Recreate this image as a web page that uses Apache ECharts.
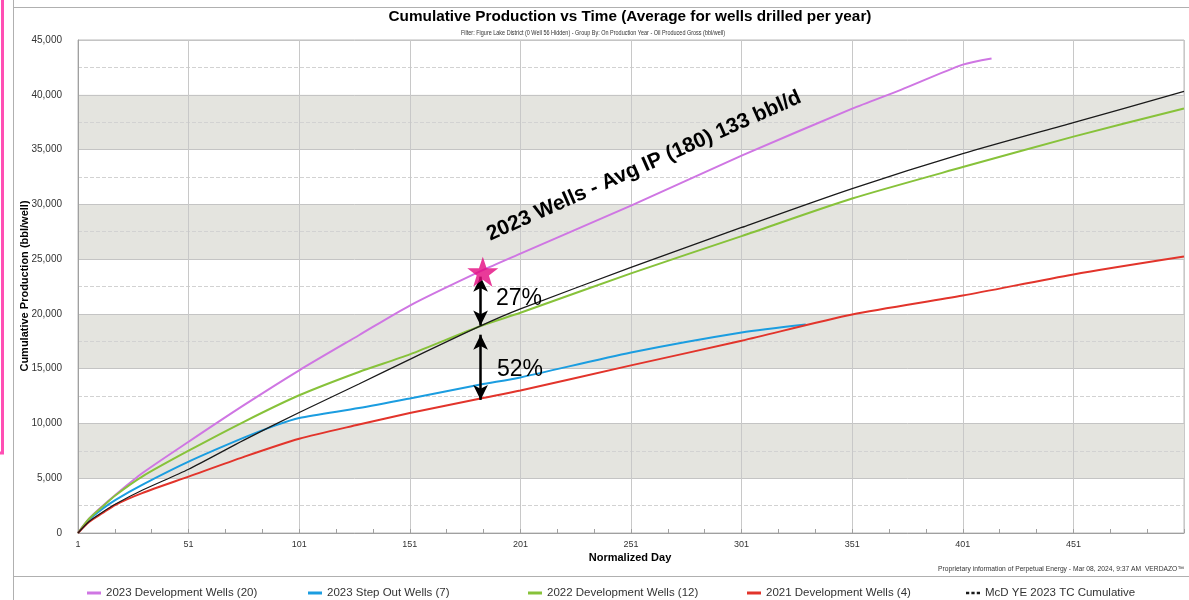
<!DOCTYPE html>
<html><head><meta charset="utf-8">
<script src="https://cdn.jsdelivr.net/npm/echarts@6/dist/echarts.min.js"></script>
<style>html,body{margin:0;padding:0;background:#fff}#c{width:1189px;height:600px}</style>
</head><body><div id="c"></div>
<script>
const TITLE = 'Cumulative Production vs Time (Average for wells drilled per year)';
const SUBTITLE = 'Filter: Figure Lake District (0 Well 56 Hidden) - Group By: On Production Year - Oil Produced Gross (bbl/well)';
const FOOTER = 'Proprietary information of Perpetual Energy - Mar 08, 2024, 9:37 AM  VERDAZO\u2122';
const X_NAME = 'Normalized Day';
const Y_NAME = 'Cumulative Production (bbl/well)';
const SERIES_NAMES = ['2023 Development Wells (20)', '2023 Step Out Wells (7)', '2022 Development Wells (12)', '2021 Development Wells (4)', 'McD YE 2023 TC Cumulative'];

const DEV23_DAYS = [1, 6, 12, 18, 30, 51, 76, 101, 128, 151, 183, 201, 251, 301, 351, 373, 401, 414];
const DEV23_VALS = [0, 1300, 2450, 3500, 5450, 8330, 11670, 14850, 18050, 20760, 23900, 25500, 29880, 34440, 38730, 40450, 42750, 43320];

const STEP23_DAYS = [1, 6, 12, 18, 30, 51, 76, 90, 101, 128, 151, 183, 201, 251, 301, 330];
const STEP23_VALS = [0, 1200, 2200, 3030, 4390, 6510, 8700, 9800, 10500, 11400, 12280, 13550, 14200, 16480, 18310, 19040];

const DEV22_DAYS = [1, 6, 12, 18, 30, 51, 76, 101, 128, 151, 183, 201, 251, 301, 351, 401, 451, 501];
const DEV22_VALS = [0, 1300, 2400, 3450, 5150, 7510, 10150, 12570, 14700, 16300, 18900, 20100, 23700, 27100, 30530, 33400, 36180, 38750];

const DEV21_DAYS = [1, 6, 12, 18, 30, 51, 76, 101, 128, 151, 183, 201, 251, 301, 351, 401, 451, 501];
const DEV21_VALS = [0, 1000, 1800, 2580, 3640, 5150, 6950, 8600, 9900, 10950, 12280, 13010, 15300, 17550, 19940, 21670, 23600, 25230];

const TC_DAYS = [1, 6, 12, 18, 30, 51, 76, 101, 128, 151, 183, 201, 251, 301, 351, 401, 451, 501];
const TC_VALS = [0, 1050, 1900, 2650, 3900, 5820, 8480, 11000, 13600, 15850, 18900, 20450, 24240, 27890, 31440, 34630, 37460, 40300];

const STAR_POINT = [184, 23850];
const ARROWS = [[[183, 23400], [183, 18950]], [[183, 18100], [183, 12150]]];
const ANNOT_TEXT = '2023 Wells - Avg IP (180) 133 bbl/d';
const PCT_LABELS = ['27%', '52%'];

const COLORS = ['#cf76e3', '#1b9de0', '#87c23a', '#e2342b', '#1a1a1a'];
const FONT = '"Liberation Sans", Arial, sans-serif';

const toPts = (days, vals) => days.map((d, i) => [d - 1, vals[i]]);
const SETS = [[DEV23_DAYS, DEV23_VALS], [STEP23_DAYS, STEP23_VALS], [DEV22_DAYS, DEV22_VALS], [DEV21_DAYS, DEV21_VALS], [TC_DAYS, TC_VALS]];

function fitScale(text, font, target) {
  const c = document.createElement('canvas').getContext('2d');
  c.font = font;
  return target / c.measureText(text).width;
}

const chart = echarts.init(document.getElementById('c'), null, {renderer: 'canvas'});
const STAR_PATH = 'path://M50,0 L61.8,35.1 L97.6,35.1 L68.8,56.7 L79.4,91 L50,70 L20.6,91 L31.2,56.7 L2.4,35.1 L38.2,35.1 Z';
const DASH_ICON = 'path://M0,0h3v2.5h-3z M5,0h3v2.5h-3z M10,0h3v2.5h-3z';
const legendLefts = [82, 303, 523, 742, 961];

const series = SETS.map((s, i) => ({
  name: SERIES_NAMES[i], type: 'line', data: toPts(s[0], s[1]), showSymbol: false, smooth: 0.25,
  lineStyle: {width: i === 4 ? 1.3 : 2, color: COLORS[i]}, itemStyle: {color: COLORS[i]}, z: i === 4 ? 4 : 3
}));
series.push({
  type: 'scatter', data: [[STAR_POINT[0] - 1, STAR_POINT[1]]], symbol: STAR_PATH, symbolSize: [31, 30],
  itemStyle: {color: '#e4097f'}, z: 10, silent: true,
  markLine: {
    silent: true, symbol: ['arrow', 'arrow'], symbolSize: [11, 15], animation: false,
    lineStyle: {color: '#000', width: 2.5, type: 'solid'}, label: {show: false},
    data: ARROWS.map(a => [{coord: [a[0][0] - 1, a[0][1]]}, {coord: [a[1][0] - 1, a[1][1]]}])
  }
});

const subFont = '7px ' + FONT;
const footFont = '6.5px ' + FONT;

chart.setOption({
  animation: false,
  backgroundColor: '#fff',
  grid: {left: 78, right: 5, top: 40, bottom: 67, show: true, borderColor: '#bbb', borderWidth: 1},
  xAxis: {
    type: 'value', min: 0, max: 500, interval: 50,
    axisLine: {show: true, lineStyle: {color: '#a0a0a0'}},
    axisTick: {show: true, inside: true, length: 4, lineStyle: {color: '#a0a0a0'}},
    minorTick: {show: true, splitNumber: 3, length: 4, lineStyle: {color: '#a0a0a0'}},
    axisLabel: {formatter: v => (v >= 500 ? '' : String(v + 1)), fontSize: 9, color: '#333', margin: 7, fontFamily: FONT},
    splitLine: {show: true, lineStyle: {color: '#c8c8c8', width: 1}}
  },
  yAxis: {
    type: 'value', min: 0, max: 45000, interval: 5000,
    axisLine: {show: true, lineStyle: {color: '#a0a0a0'}},
    axisTick: {show: false},
    axisLabel: {formatter: v => v.toLocaleString('en-US'), fontSize: 10, color: '#333', margin: 16, fontFamily: FONT},
    splitLine: {show: true, lineStyle: {color: '#c4c4c4'}},
    splitArea: {show: true, areaStyle: {color: ['rgba(255,255,255,0)', '#e4e4df']}},
    minorTick: {show: false, splitNumber: 2},
    minorSplitLine: {show: true, lineStyle: {color: '#d2d2d2', type: 'dashed', width: 1}}
  },
  legend: SERIES_NAMES.map((n, i) => ({
    data: [n], left: legendLefts[i], top: 582, itemWidth: 14, itemHeight: 3, itemGap: 0,
    icon: i === 4 ? DASH_ICON : 'rect', selectedMode: false,
    textStyle: {fontSize: 11.5, color: '#333', fontFamily: FONT}
  })),
  series: series,
  graphic: [
    {type: 'line', shape: {x1: 13.5, y1: 0, x2: 13.5, y2: 600}, style: {stroke: '#b0b0b0', lineWidth: 1}, silent: true},
    {type: 'line', shape: {x1: 13, y1: 7.5, x2: 1189, y2: 7.5}, style: {stroke: '#b0b0b0', lineWidth: 1}, silent: true},
    {type: 'line', shape: {x1: 13, y1: 576.5, x2: 1189, y2: 576.5}, style: {stroke: '#b0b0b0', lineWidth: 1}, silent: true},
    {type: 'polyline', shape: {points: [[2.5, 0], [2.5, 453], [0, 453]]}, style: {stroke: '#ff4fb4', lineWidth: 3, fill: null}, silent: true},
    {type: 'text', x: 630, y: 17, style: {text: TITLE, font: 'bold 15.3px ' + FONT, fill: '#000', align: 'center', verticalAlign: 'middle'}, silent: true},
    {type: 'text', x: 461, y: 33, scaleX: fitScale(SUBTITLE, subFont, 264), style: {text: SUBTITLE, font: subFont, fill: '#333', align: 'left', verticalAlign: 'middle'}, silent: true},
    {type: 'text', x: 938, y: 569, scaleX: fitScale(FOOTER, footFont, 246), style: {text: FOOTER, font: footFont, fill: '#333', align: 'left', verticalAlign: 'middle'}, silent: true},
    {type: 'text', x: 25, y: 286, rotation: Math.PI / 2, style: {text: Y_NAME, font: 'bold 11px ' + FONT, fill: '#000', align: 'center', verticalAlign: 'middle'}, silent: true},
    {type: 'text', x: 630, y: 558, style: {text: X_NAME, font: 'bold 11px ' + FONT, fill: '#000', align: 'center', verticalAlign: 'middle'}, silent: true},
    {type: 'text', x: 644, y: 166, rotation: 24 * Math.PI / 180, style: {text: ANNOT_TEXT, font: 'bold 21px ' + FONT, fill: '#000', align: 'center', verticalAlign: 'middle'}, silent: true, z: 20},
    {type: 'text', x: 496, y: 299, style: {text: PCT_LABELS[0], font: '23px ' + FONT, fill: '#000', align: 'left', verticalAlign: 'middle'}, silent: true, z: 20},
    {type: 'text', x: 497, y: 370, style: {text: PCT_LABELS[1], font: '23px ' + FONT, fill: '#000', align: 'left', verticalAlign: 'middle'}, silent: true, z: 20}
  ]
});
</script>
</body></html>
